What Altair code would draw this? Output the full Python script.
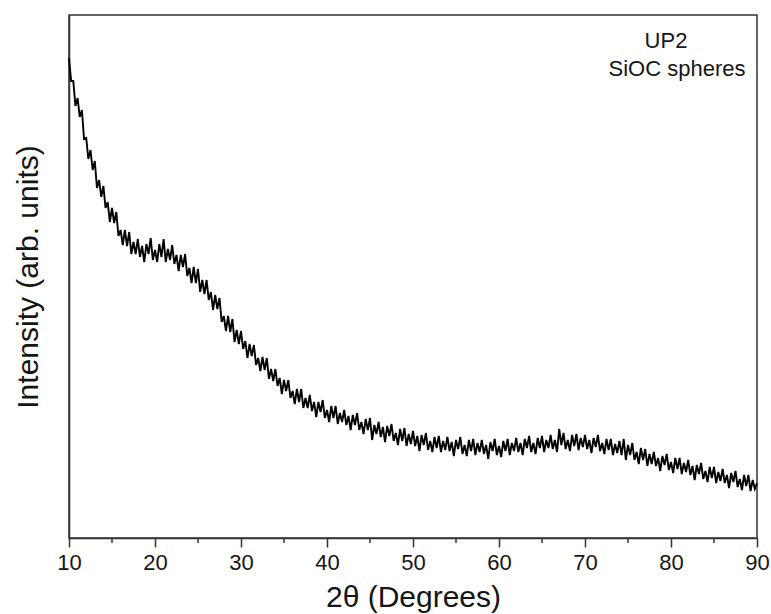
import altair as alt
import pandas as pd

# 2-theta sampling grid (degrees), one reading every 0.25 degree from 10 to 90
two_theta_start = 10.0
two_theta_step = 0.25

# Intensity (arb. units), four readings per degree
intensity = [
    480, 457, 457, 432,   # 10
    440, 421, 428, 399,   # 11
    400, 379, 388, 368,   # 12
    377, 350, 358, 341,   # 13
    352, 330, 336, 316,   # 14
    330, 315, 326, 302,   # 15
    308, 293, 308, 292,   # 16
    306, 284, 296, 284,   # 17
    299, 281, 292, 276,   # 18
    294, 284, 300, 278,   # 19
    288, 276, 294, 281,   # 20
    299, 276, 289, 278,   # 21
    293, 274, 283, 267,   # 22
    283, 271, 284, 262,   # 23
    270, 255, 271, 255,   # 24
    269, 246, 258, 244,   # 25
    258, 238, 246, 228,   # 26
    243, 229, 240, 216,   # 27
    222, 207, 222, 206,   # 28
    219, 196, 208, 194,   # 29
    207, 189, 197, 180,   # 30
    194, 182, 193, 173,   # 31
    180, 167, 181, 168,   # 32
    180, 159, 169, 157,   # 33
    169, 152, 160, 144,   # 34
    158, 147, 158, 140,   # 35
    147, 134, 149, 136,   # 36
    149, 130, 140, 130,   # 37
    143, 127, 136, 121,   # 38
    136, 126, 138, 120,   # 39
    128, 116, 132, 120,   # 40
    132, 114, 125, 116,   # 41
    128, 113, 122, 108,   # 42
    123, 113, 125, 108,   # 43
    116, 104, 119, 108,   # 44
    120, 98, 113, 104,    # 45
    116, 101, 111, 96,    # 46
    112, 102, 114, 97,    # 47
    105, 93, 109, 97,     # 48
    110, 92, 104, 94,     # 49
    107, 92, 102, 87,     # 50
    103, 93, 105, 88,     # 51
    97, 86, 101, 90,      # 52
    102, 86, 97, 88,      # 53
    101, 87, 96, 82,      # 54
    98, 89, 101, 84,      # 55
    93, 82, 98, 87,       # 56
    99, 83, 95, 86,       # 57
    98, 84, 93, 79,       # 58
    96, 87, 99, 83,       # 59
    92, 81, 97, 87,       # 60
    99, 83, 95, 87,       # 61
    100, 86, 95, 83,      # 62
    99, 90, 102, 86,      # 63
    95, 84, 100, 90,      # 64
    102, 86, 98, 90,      # 65
    103, 89, 98, 86,      # 66
    109, 93, 105, 89,     # 67
    98, 87, 103, 92,      # 68
    104, 88, 100, 91,     # 69
    103, 89, 98, 85,      # 70
    100, 91, 103, 87,     # 71
    95, 84, 99, 88,       # 72
    99, 83, 94, 85,       # 73
    97, 83, 99, 78,       # 74
    93, 83, 95, 78,       # 75
    86, 74, 90, 78,       # 76
    89, 72, 84, 74,       # 77
    86, 72, 80, 67,       # 78
    82, 73, 84, 68,       # 79
    76, 65, 80, 69,       # 80
    80, 64, 75, 66,       # 81
    78, 63, 72, 58,       # 82
    73, 64, 75, 59,       # 83
    67, 56, 71, 60,       # 84
    71, 55, 66, 57,       # 85
    69, 55, 63, 50,       # 86
    65, 56, 67, 51,       # 87
    59, 48, 63, 52,       # 88
    63, 47, 58, 49,       # 89
    55,                   # 90
]

major_ticks = [10, 20, 30, 40, 50, 60, 70, 80, 90]
minor_ticks = [15, 25, 35, 45, 55, 65, 75, 85]
label_lines = ["UP2", "SiOC spheres"]

two_theta = [two_theta_start + i * two_theta_step for i in range(len(intensity))]
df = pd.DataFrame({"two_theta": two_theta, "intensity": intensity})
minor_df = pd.DataFrame({"t": minor_ticks})

FONT = "Liberation Sans"
AXIS_COLOR = "#333333"
TEXT_COLOR = "#151515"
PLOT_H = 523

x_scale = alt.Scale(domain=[10, 90], nice=False, zero=False)
y_scale = alt.Scale(domain=[0, 523], nice=False, zero=True)

x_axis = alt.Axis(
    title="2θ (Degrees)",
    values=major_ticks,
    format="d",
    tickSize=9,
    tickWidth=1.5,
    tickColor=AXIS_COLOR,
    domainColor=AXIS_COLOR,
    domainWidth=1.5,
    labelFont=FONT,
    labelFontSize=22,
    labelColor=TEXT_COLOR,
    labelPadding=5,
    labelFlush=False,
    labelOverlap=False,
    titleFont=FONT,
    titleFontSize=30,
    titleFontWeight="normal",
    titleColor=TEXT_COLOR,
    titlePadding=9,
    grid=False,
)

y_axis = alt.Axis(
    title="Intensity (arb. units)",
    labels=False,
    ticks=False,
    domainColor=AXIS_COLOR,
    domainWidth=1.5,
    titleFont=FONT,
    titleFontSize=30,
    titleFontWeight="normal",
    titleColor=TEXT_COLOR,
    titlePadding=26,
    grid=False,
)

line = alt.Chart(df).mark_line(color="black", strokeWidth=1.9).encode(
    x=alt.X("two_theta:Q", scale=x_scale, axis=x_axis),
    y=alt.Y("intensity:Q", scale=y_scale, axis=y_axis),
)

# minor ticks hanging below the x axis line
minor = alt.Chart(minor_df).mark_rule(color=AXIS_COLOR, strokeWidth=1.5).encode(
    x=alt.X("t:Q", scale=x_scale, axis=x_axis),
    y=alt.value(PLOT_H),
    y2=alt.value(PLOT_H + 5),
)

up2 = alt.Chart(pd.DataFrame({"text": [label_lines[0]]})).mark_text(
    font=FONT, fontSize=22, color=TEXT_COLOR, align="center", baseline="middle"
).encode(text="text:N", x=alt.value(597), y=alt.value(26))

sioc = alt.Chart(pd.DataFrame({"text": [label_lines[1]]})).mark_text(
    font=FONT, fontSize=22, color=TEXT_COLOR, align="center", baseline="middle"
).encode(text="text:N", x=alt.value(608), y=alt.value(54))

chart = (
    alt.layer(line, minor, up2, sioc)
    .properties(
        width=688,
        height=PLOT_H,
        autosize=alt.AutoSizeParams(type="none"),
        padding={"left": 69, "top": 15, "right": 14, "bottom": 76},
        background="white",
    )
    .configure_view(stroke=AXIS_COLOR, strokeWidth=1.5)
)

chart.save("out.html", embed_options={"renderer": "svg", "actions": False})
